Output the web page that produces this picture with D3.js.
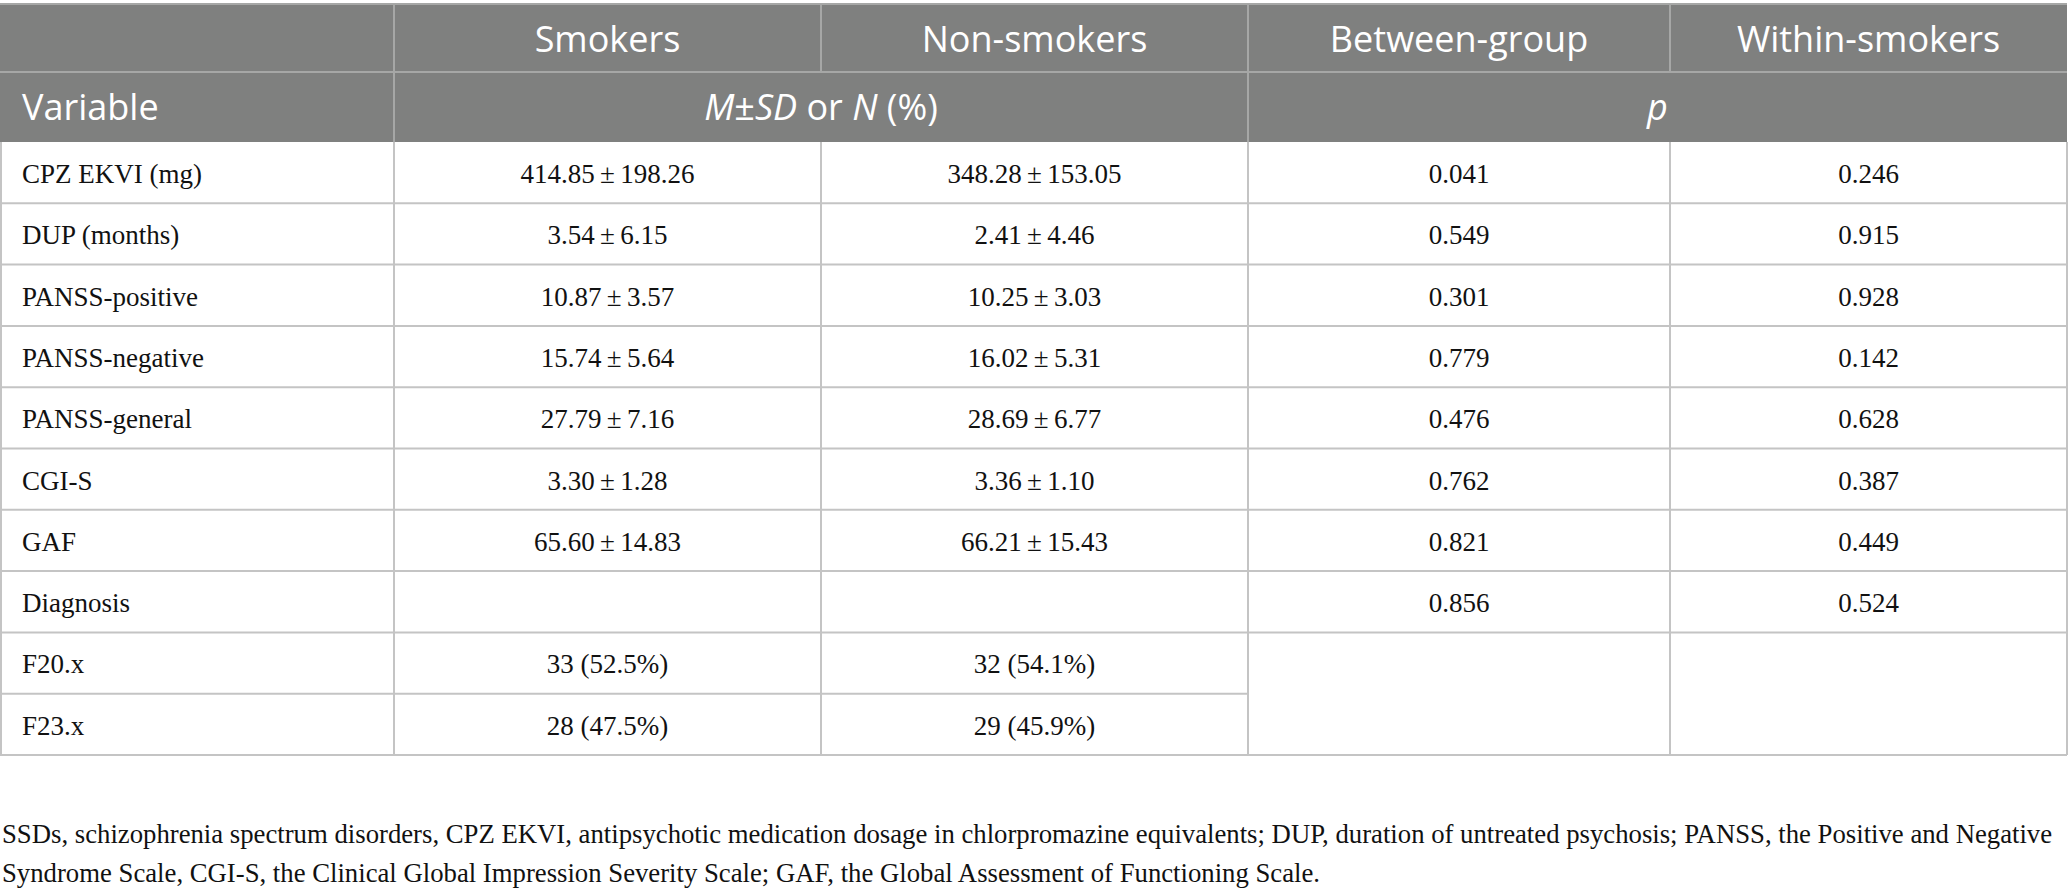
<!DOCTYPE html>
<html>
<head>
<meta charset="utf-8">
<script src="https://cdn.jsdelivr.net/npm/d3@7/dist/d3.min.js"></script>
<style>
  html, body { margin: 0; padding: 0; background: #fff; }
  svg { display: block; }
</style>
</head>
<body>
<svg id="chart" width="2068" height="895"></svg>
<script>
// ---- data ----
const columnHeaders = ["Smokers", "Non-smokers", "Between-group", "Within-smokers"];
const variables = ["CPZ EKVI (mg)", "DUP (months)", "PANSS-positive", "PANSS-negative", "PANSS-general", "CGI-S", "GAF", "Diagnosis", "F20.x", "F23.x"];
const smokers = ["414.85\u2009±\u2009198.26", "3.54\u2009±\u20096.15", "10.87\u2009±\u20093.57", "15.74\u2009±\u20095.64", "27.79\u2009±\u20097.16", "3.30\u2009±\u20091.28", "65.60\u2009±\u200914.83", "", "33 (52.5%)", "28 (47.5%)"];
const nonSmokers = ["348.28\u2009±\u2009153.05", "2.41\u2009±\u20094.46", "10.25\u2009±\u20093.03", "16.02\u2009±\u20095.31", "28.69\u2009±\u20096.77", "3.36\u2009±\u20091.10", "66.21\u2009±\u200915.43", "", "32 (54.1%)", "29 (45.9%)"];
const betweenP = ["0.041", "0.549", "0.301", "0.779", "0.476", "0.762", "0.821", "0.856", "", ""];
const withinP = ["0.246", "0.915", "0.928", "0.142", "0.628", "0.387", "0.449", "0.524", "", ""];
const footnoteLines = [
  "SSDs, schizophrenia spectrum disorders, CPZ EKVI, antipsychotic medication dosage in chlorpromazine equivalents; DUP, duration of untreated psychosis; PANSS, the Positive and Negative",
  "Syndrome Scale, CGI-S, the Clinical Global Impression Severity Scale; GAF, the Global Assessment of Functioning Scale."
];

// ---- layout ----
const svg = d3.select("#chart");
const colEdges = [0, 394, 821, 1248, 1670, 2067];
const headerTop = 4, header1Bottom = 72, headerBottom = 142, tableBottom = 755;
const headBg = "#7f807f";
const headLine = "#a6a7a6";
const bodyLine = "#c4c4c4";
const sans = "'Open Sans', 'Noto Sans', sans-serif";
const serif = "'Liberation Serif', 'Times New Roman', serif";

const y = d3.scaleBand().domain(d3.range(variables.length)).range([headerBottom, tableBottom]).paddingInner(0).paddingOuter(0);
const colMid = i => (colEdges[i] + colEdges[i + 1]) / 2;

// header background
svg.append("rect").attr("x", 0).attr("y", headerTop).attr("width", colEdges[5]).attr("height", headerBottom - headerTop).attr("fill", headBg);

// header lines
const hl = svg.append("g").attr("stroke", headLine).attr("stroke-width", 2);
hl.append("line").attr("x1", 0).attr("x2", colEdges[5]).attr("y1", headerTop).attr("y2", headerTop);
hl.append("line").attr("x1", 0).attr("x2", colEdges[5]).attr("y1", header1Bottom).attr("y2", header1Bottom);
[1, 2, 3, 4].forEach(i => {
  hl.append("line").attr("x1", colEdges[i]).attr("x2", colEdges[i]).attr("y1", headerTop).attr("y2", header1Bottom);
});
[1, 3].forEach(i => {
  hl.append("line").attr("x1", colEdges[i]).attr("x2", colEdges[i]).attr("y1", header1Bottom).attr("y2", headerBottom);
});

// header text row 1
svg.append("g").selectAll("text").data(columnHeaders).join("text")
  .attr("x", (d, i) => colMid(i + 1))
  .attr("y", 52)
  .attr("text-anchor", "middle")
  .attr("font-family", sans).attr("font-size", 36).attr("fill", "#fff")
  .text(d => d);

// header text row 2
svg.append("text").attr("x", 22).attr("y", 120)
  .attr("font-family", sans).attr("font-size", 36).attr("fill", "#fff").text("Variable");
const msd = svg.append("text").attr("x", (colEdges[1] + colEdges[3]) / 2).attr("y", 120)
  .attr("text-anchor", "middle").attr("font-family", sans).attr("font-size", 36).attr("fill", "#fff");
msd.append("tspan").attr("font-style", "italic").text("M");
msd.append("tspan").text("±");
msd.append("tspan").attr("font-style", "italic").text("SD");
msd.append("tspan").text(" or ");
msd.append("tspan").attr("font-style", "italic").text("N");
msd.append("tspan").text(" (%)");
svg.append("text").attr("x", (colEdges[3] + colEdges[5]) / 2).attr("y", 120)
  .attr("text-anchor", "middle").attr("font-family", sans).attr("font-size", 36)
  .attr("font-style", "italic").attr("fill", "#fff").text("p");

// body lines
const bl = svg.append("g").attr("stroke", bodyLine).attr("stroke-width", 2);
d3.range(variables.length).forEach(i => {
  const yb = y(i) + y.bandwidth();
  const xEnd = (i === 8) ? colEdges[3] : colEdges[5];
  bl.append("line").attr("x1", 0).attr("x2", xEnd).attr("y1", yb).attr("y2", yb);
});
colEdges.forEach(x => {
  const xx = Math.max(1, Math.min(x, 2067));
  bl.append("line").attr("x1", xx).attr("x2", xx).attr("y1", headerBottom).attr("y2", tableBottom);
});

// body text
const rowText = svg.append("g").attr("font-family", serif).attr("font-size", 27).attr("fill", "#111");
const baseline = i => y(i) + 41;
rowText.selectAll("text.var").data(variables).join("text").attr("class", "var")
  .attr("x", 22).attr("y", (d, i) => baseline(i)).text(d => d);
[smokers, nonSmokers, betweenP, withinP].forEach((arr, c) => {
  rowText.selectAll("text.c" + c).data(arr).join("text").attr("class", "c" + c)
    .attr("x", colMid(c + 1)).attr("y", (d, i) => baseline(i))
    .attr("text-anchor", "middle").text(d => d);
});

// footnote: fit first line to the reference width
const foot = svg.append("g").attr("font-family", serif).attr("font-size", 27).attr("fill", "#111");
const footTexts = foot.selectAll("text").data(footnoteLines).join("text")
  .attr("x", 2).attr("y", (d, i) => 843 + i * 39).text(d => d);
const w0 = footTexts.nodes()[0].getComputedTextLength();
const targetW = 2050;
if (w0 > 0) foot.attr("font-size", (27 * targetW / w0).toFixed(2));
</script>
</body>
</html>
